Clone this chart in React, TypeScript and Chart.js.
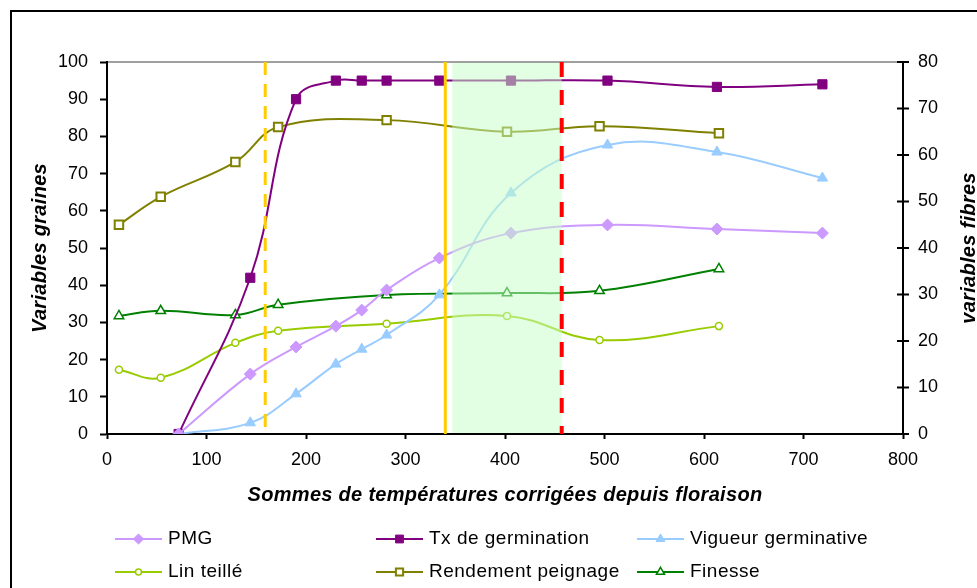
import { useEffect, useRef } from 'react';
import { Chart, registerables } from 'chart.js';
import { drawPoint } from 'chart.js/helpers';

Chart.register(...registerables);

// ---- Data ----
const seedX = [72, 144, 190, 230, 256, 281, 334, 406, 503, 613, 719];
const pmg = [0, 16.1, 23.4, 29, 33.3, 38.7, 47.3, 54, 56.2, 55.1, 54];
const germination = [0, 42, 90, 95, 95, 95, 95, 95, 95, 93.3, 94];
const vigueur = [0, 3, 10.8, 18.8, 22.8, 26.6, 37.4, 64.8, 77.7, 75.8, 68.8];

const fibreX = [12, 54, 129, 172, 281, 402, 495, 615];
const linTeille = [13.8, 12.1, 19.6, 22.2, 23.7, 25.4, 20.2, 23.2];
const rendement = [45, 51, 58.5, 66, 67.5, 65, 66.2, 64.7];
const finesse = [25.4, 26.5, 25.6, 27.8, 29.9, 30.3, 30.8, 35.5];

const seriesNames = ['PMG', 'Tx de germination', 'Vigueur germinative', 'Lin teillé', 'Rendement peignage', 'Finesse'];

const xTickStep = 100;
const xMax = 800;
const leftMax = 100;
const rightMax = 80;
const tickStep = 10;

// vertical reference markers (x values)
const yellowDashedX = 159;
const yellowSolidX = 340;
const bandStartX = 347;
const bandEndX = 457; // red dashed line

const xTitle = 'Sommes de températures corrigées depuis floraison';
const leftTitle = 'Variables graines';
const rightTitle = 'variables fibres';

const FONT = '"Liberation Sans", Arial, sans-serif';

function pts(xs: number[], ys: number[]) {
  return xs.map((x, i) => ({ x, y: ys[i] }));
}

const overlayPlugin = {
  id: 'overlay',
  beforeDraw(chart: any) {
    const ctx = chart.ctx;
    ctx.save();
    ctx.fillStyle = '#ffffff';
    ctx.fillRect(0, 0, chart.width, chart.height);
    ctx.strokeStyle = '#000000';
    ctx.lineWidth = 2;
    ctx.strokeRect(11, 11, chart.width + 20, chart.height + 20);
    const a = chart.chartArea;
    ctx.strokeStyle = '#808080';
    ctx.lineWidth = 1.5;
    ctx.beginPath();
    ctx.moveTo(a.left, a.top);
    ctx.lineTo(a.right, a.top);
    ctx.stroke();
    ctx.restore();
  },
  afterDatasetsDraw(chart: any) {
    const ctx = chart.ctx;
    const a = chart.chartArea;
    const xs = chart.scales.x;
    ctx.save();
    const b0 = xs.getPixelForValue(bandStartX);
    const b1 = xs.getPixelForValue(bandEndX);
    ctx.fillStyle = 'rgba(200,255,200,0.5)';
    ctx.fillRect(b0, a.top + 1, b1 - b0, a.bottom - a.top - 2);
    let px = xs.getPixelForValue(yellowDashedX);
    ctx.strokeStyle = '#FFCC00';
    ctx.lineWidth = 3;
    ctx.setLineDash([13, 9]);
    ctx.beginPath();
    ctx.moveTo(px, a.top);
    ctx.lineTo(px, a.bottom);
    ctx.stroke();
    px = xs.getPixelForValue(yellowSolidX);
    ctx.setLineDash([]);
    ctx.beginPath();
    ctx.moveTo(px, a.top);
    ctx.lineTo(px, a.bottom);
    ctx.stroke();
    px = xs.getPixelForValue(bandEndX);
    ctx.strokeStyle = '#FF0000';
    ctx.lineWidth = 4;
    ctx.setLineDash([15, 13]);
    ctx.beginPath();
    ctx.moveTo(px, a.top);
    ctx.lineTo(px, a.bottom);
    ctx.stroke();
    ctx.restore();
  },
  afterDraw(chart: any) {
    const ctx = chart.ctx;
    const a = chart.chartArea;
    const y2 = chart.scales.y2;
    ctx.save();
    ctx.strokeStyle = '#000';
    ctx.lineWidth = 2;
    for (let v = 0; v <= rightMax; v += tickStep) {
      const py = y2.getPixelForValue(v);
      ctx.beginPath();
      ctx.moveTo(a.right - 6, py);
      ctx.lineTo(a.right + 6, py);
      ctx.stroke();
    }
    ctx.fillStyle = '#000';
    ctx.font = `italic bold 20px ${FONT}`;
    (ctx as any).letterSpacing = '0.3px';
    ctx.textAlign = 'center';
    ctx.textBaseline = 'middle';
    ctx.fillText(xTitle, (a.left + a.right) / 2, 495);
    const cy = (a.top + a.bottom) / 2;
    ctx.save();
    ctx.translate(40, cy);
    ctx.rotate(-Math.PI / 2);
    ctx.fillText(leftTitle, 0, 0);
    ctx.restore();
    ctx.save();
    ctx.translate(969, cy);
    ctx.rotate(-Math.PI / 2);
    ctx.fillText(rightTitle, 0, 0);
    ctx.restore();
    // legend
    const colX = [115, 376, 637];
    const rowY = [539, 572];
    ctx.font = `19px ${FONT}`;
    (ctx as any).letterSpacing = '0.5px';
    ctx.textAlign = 'left';
    chart.data.datasets.forEach((ds: any, k: number) => {
      const x0 = colX[k % 3];
      const y0 = rowY[Math.floor(k / 3)];
      const len = 47;
      ctx.strokeStyle = ds.borderColor;
      ctx.lineWidth = ds.borderWidth;
      ctx.setLineDash([]);
      ctx.beginPath();
      ctx.moveTo(x0, y0);
      ctx.lineTo(x0 + len, y0);
      ctx.stroke();
      ctx.fillStyle = ds.pointBackgroundColor;
      ctx.strokeStyle = ds.pointBorderColor;
      ctx.lineWidth = ds.pointBorderWidth;
      drawPoint(ctx, { pointStyle: ds.pointStyle, radius: ds.pointRadius * 0.85, rotation: 0, borderWidth: ds.pointBorderWidth }, x0 + len / 2, y0);
      ctx.fillStyle = '#000';
      ctx.fillText(ds.label, x0 + len + 6, y0);
    });
    ctx.restore();
  },
};

export default function App() {
  const ref = useRef<HTMLCanvasElement>(null);
  useEffect(() => {
    if (!ref.current) return;
    const tickFont = { family: FONT, size: 18 };
    const chart = new Chart(ref.current, {
      type: 'line',
      data: {
        datasets: [
          {
            label: seriesNames[0],
            data: pts(seedX, pmg),
            yAxisID: 'y',
            borderColor: '#CC99FF',
            borderWidth: 2,
            pointStyle: 'rectRot',
            pointRadius: 6,
            pointBackgroundColor: '#CC99FF',
            pointBorderColor: '#CC99FF',
            pointBorderWidth: 1,
            tension: 0.4,
          },
          {
            label: seriesNames[1],
            data: pts(seedX, germination),
            yAxisID: 'y',
            borderColor: '#800080',
            borderWidth: 2,
            pointStyle: 'rect',
            pointRadius: 6.5,
            pointBackgroundColor: '#800080',
            pointBorderColor: '#800080',
            pointBorderWidth: 1,
            tension: 0.4,
          },
          {
            label: seriesNames[2],
            data: pts(seedX, vigueur),
            yAxisID: 'y',
            borderColor: '#99CCFF',
            borderWidth: 2,
            pointStyle: 'triangle',
            pointRadius: 6,
            pointBackgroundColor: '#99CCFF',
            pointBorderColor: '#99CCFF',
            pointBorderWidth: 1,
            tension: 0.4,
          },
          {
            label: seriesNames[3],
            data: pts(fibreX, linTeille),
            yAxisID: 'y2',
            borderColor: '#99CC00',
            borderWidth: 2,
            pointStyle: 'circle',
            pointRadius: 3.5,
            pointBackgroundColor: '#ffffff',
            pointBorderColor: '#99CC00',
            pointBorderWidth: 1.5,
            tension: 0.4,
          },
          {
            label: seriesNames[4],
            data: pts(fibreX, rendement),
            yAxisID: 'y2',
            borderColor: '#808000',
            borderWidth: 2,
            pointStyle: 'rect',
            pointRadius: 6,
            pointBackgroundColor: '#ffffff',
            pointBorderColor: '#808000',
            pointBorderWidth: 2,
            tension: 0.4,
          },
          {
            label: seriesNames[5],
            data: pts(fibreX, finesse),
            yAxisID: 'y2',
            borderColor: '#008000',
            borderWidth: 2,
            pointStyle: 'triangle',
            pointRadius: 5.5,
            pointBackgroundColor: '#ffffff',
            pointBorderColor: '#008000',
            pointBorderWidth: 1.5,
            tension: 0.4,
          },
        ],
      },
      options: {
        responsive: false,
        animation: false,
        events: [],
        layout: { padding: { top: 62, left: 0, right: 0, bottom: 0 } },
        plugins: { legend: { display: false }, title: { display: false }, tooltip: { enabled: false } },
        scales: {
          x: {
            type: 'linear',
            min: 0,
            max: xMax,
            afterFit: (s: any) => { s.height = 154; },
            ticks: { stepSize: xTickStep, color: '#000', font: tickFont, padding: 10, maxRotation: 0 },
            grid: { drawOnChartArea: false, tickLength: 5, tickColor: '#000', tickWidth: 2 },
            border: { color: '#000', width: 2 },
          },
          y: {
            position: 'left',
            min: 0,
            max: leftMax,
            afterFit: (s: any) => { s.width = 107; },
            ticks: { stepSize: tickStep, color: '#000', font: tickFont, padding: 12 },
            grid: { drawOnChartArea: false, tickLength: 7, tickColor: '#000', tickWidth: 2 },
            border: { color: '#000', width: 2 },
          },
          y2: {
            position: 'right',
            min: 0,
            max: rightMax,
            afterFit: (s: any) => { s.width = 74; },
            ticks: { stepSize: tickStep, color: '#000', font: tickFont, padding: 15 },
            grid: { drawOnChartArea: false, drawTicks: false },
            border: { color: '#000', width: 2 },
          },
        },
      },
      plugins: [overlayPlugin],
    } as any);
    return () => chart.destroy();
  }, []);
  return (
    <div style={{ position: 'absolute', left: 0, top: 0, width: 977, height: 588, overflow: 'hidden' }}>
      <canvas ref={ref} width={977} height={588} style={{ width: 977, height: 588, display: 'block' }} />
    </div>
  );
}
